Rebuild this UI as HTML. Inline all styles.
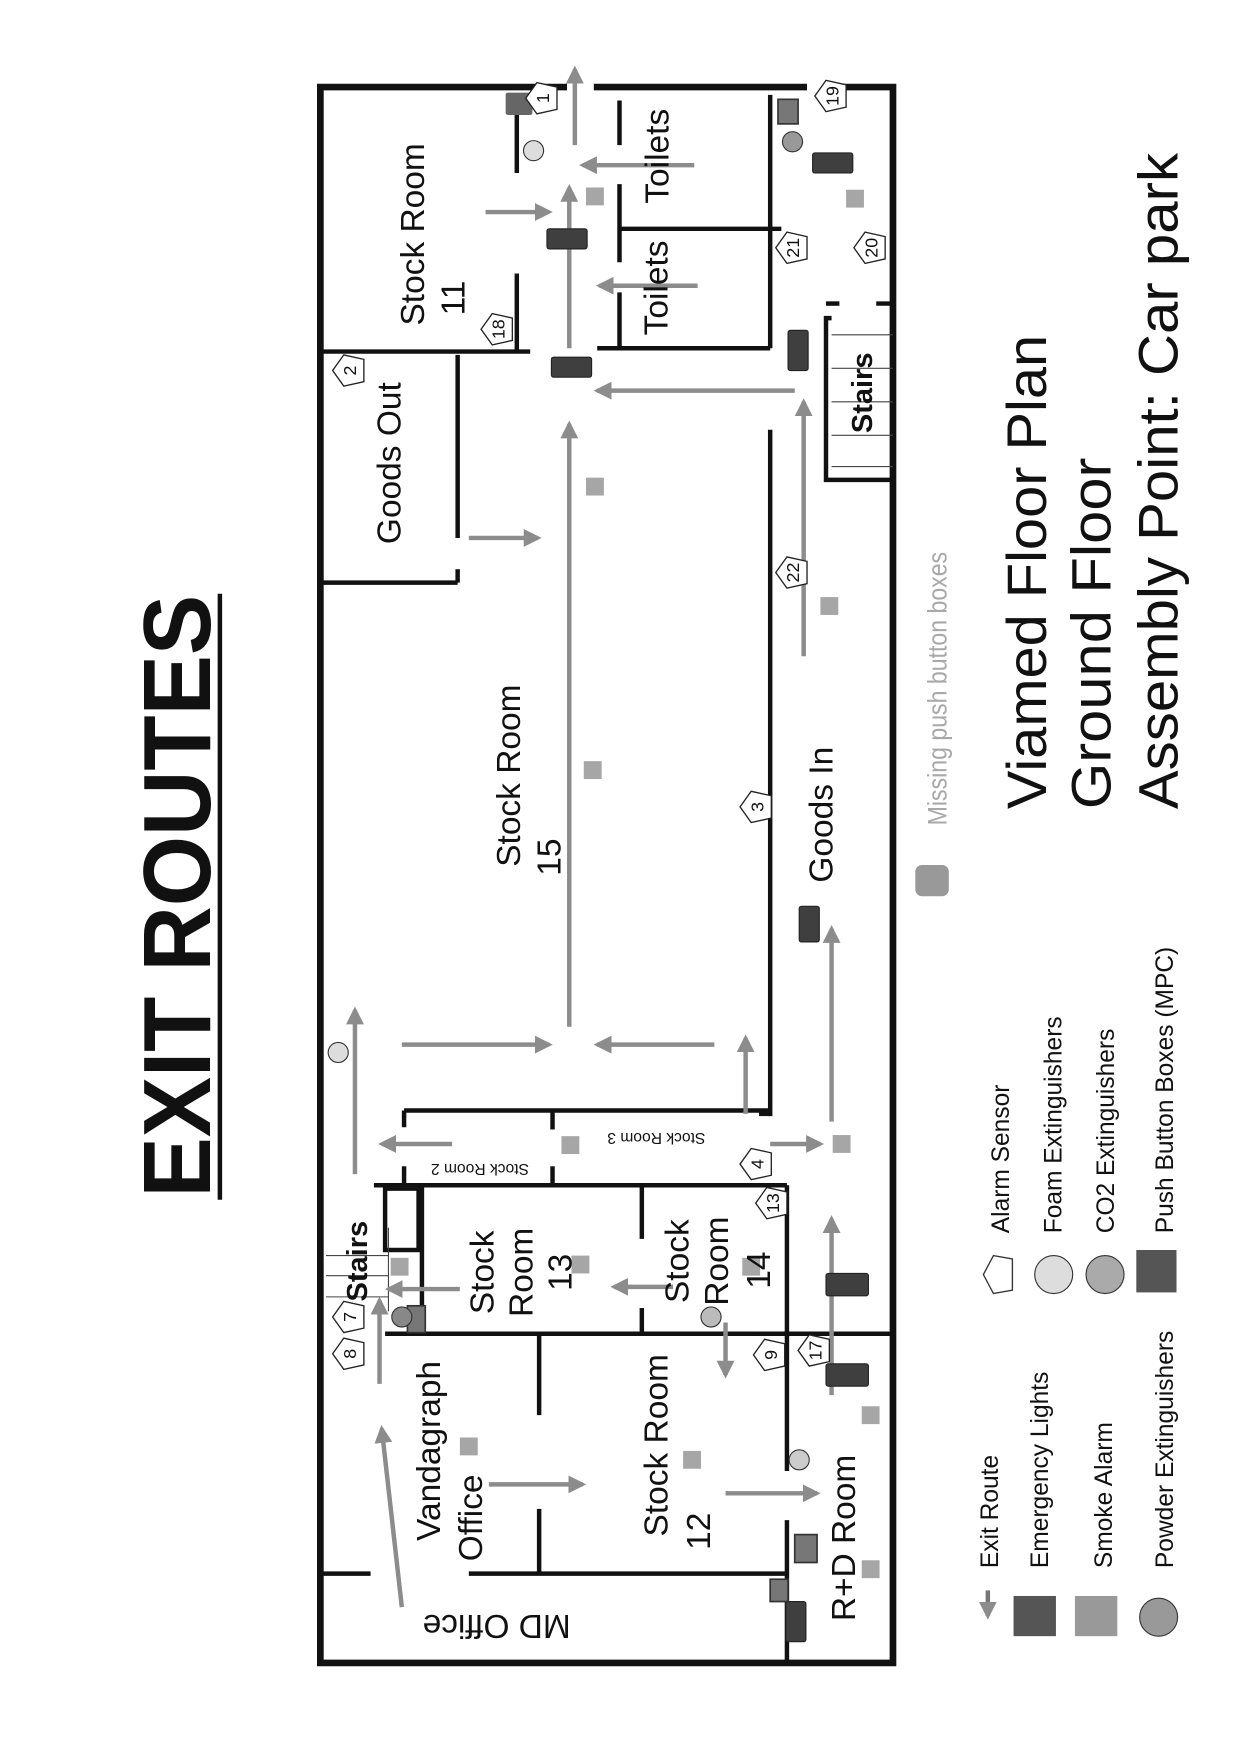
<!DOCTYPE html>
<html><head><meta charset="utf-8"><style>
html,body{margin:0;padding:0;background:#fff;}
svg{display:block;}
text{font-family:"Liberation Sans",Arial,sans-serif;fill:#111;}
</style></head><body>
<svg width="1239" height="1750" viewBox="0 0 1110 1568" preserveAspectRatio="none" xmlns="http://www.w3.org/2000/svg">
<defs>
<marker id="ah" viewBox="0 0 10 10" refX="8" refY="5" markerWidth="4" markerHeight="4" orient="auto"><path d="M0,0 L10,5 L0,10 z" fill="#8c8c8c"/></marker>
<g id="pent"><polygon points="-15,0 -5,-14 13,-10 13,10 -5,14" fill="#fff" stroke="#222" stroke-width="1.2"/></g>
</defs>
<rect width="1110" height="1568" fill="#fff"/>

<!-- Title -->
<text transform="translate(188,803) rotate(-90)" text-anchor="middle" font-size="86" font-weight="bold" textLength="540" lengthAdjust="spacingAndGlyphs">EXIT ROUTES</text>
<line x1="197" y1="532" x2="197" y2="1075" stroke="#111" stroke-width="4"/>

<g stroke="#111" stroke-width="6" fill="none" stroke-linecap="square">
<polyline points="505,78 287,78 287,1490 800,1490 800,78 740,78"/>
<line x1="535" y1="78" x2="720" y2="78"/>
</g>
<g stroke="#111" stroke-width="4" fill="none">
<line x1="287" y1="315" x2="475" y2="315"/>
<line x1="463" y1="90" x2="463" y2="155"/>
<line x1="463" y1="245" x2="463" y2="315"/>
<line x1="410" y1="318" x2="410" y2="482"/>
<line x1="410" y1="510" x2="410" y2="522"/>
<line x1="287" y1="522" x2="410" y2="522"/>
<line x1="555" y1="90" x2="555" y2="130"/>
<line x1="555" y1="165" x2="555" y2="235"/>
<line x1="555" y1="262" x2="555" y2="312"/>
<line x1="555" y1="205" x2="700" y2="205"/>
<line x1="690" y1="85" x2="690" y2="312"/>
<line x1="535" y1="312" x2="690" y2="312"/>
<polyline points="745,285 740,285 740,430 800,430"/>
<line x1="740" y1="272" x2="752" y2="272"/>
<line x1="785" y1="272" x2="800" y2="272"/>
<line x1="690" y1="385" x2="690" y2="1000"/>
<line x1="680" y1="998" x2="690" y2="998"/>
<line x1="362" y1="995" x2="690" y2="995"/>
<line x1="362" y1="995" x2="362" y2="1010"/>
<line x1="495" y1="995" x2="495" y2="1012"/>
<line x1="495" y1="1045" x2="495" y2="1062"/>
<line x1="362" y1="1045" x2="362" y2="1062"/>
<line x1="335" y1="1062" x2="705" y2="1062"/>
<line x1="378" y1="1062" x2="378" y2="1195"/>
<line x1="575" y1="1062" x2="575" y2="1110"/>
<line x1="575" y1="1172" x2="575" y2="1195"/>
<line x1="345" y1="1195" x2="685" y2="1195"/>
<line x1="705" y1="1062" x2="705" y2="1318"/>
<line x1="705" y1="1362" x2="705" y2="1490"/>
<line x1="678" y1="1195" x2="800" y2="1195"/>
<line x1="483" y1="1195" x2="483" y2="1268"/>
<line x1="483" y1="1352" x2="483" y2="1410"/>
<line x1="287" y1="1410" x2="332" y2="1410"/>
<line x1="420" y1="1410" x2="705" y2="1410"/>
</g>
<rect x="345" y="1065" width="30" height="55" fill="none" stroke="#111" stroke-width="4"/>
<g stroke="#444" stroke-width="1">
<line x1="292" y1="1125" x2="348" y2="1125"/><line x1="292" y1="1143" x2="348" y2="1143"/><line x1="292" y1="1162" x2="348" y2="1162"/>
<line x1="348" y1="1100" x2="348" y2="1175"/>
<line x1="745" y1="300" x2="800" y2="300"/><line x1="745" y1="330" x2="800" y2="330"/><line x1="745" y1="360" x2="800" y2="360"/><line x1="745" y1="390" x2="800" y2="390"/><line x1="745" y1="418" x2="800" y2="418"/>
</g>

<g stroke="#8c8c8c" stroke-width="4" fill="none" marker-end="url(#ah)">
<line x1="515" y1="130" x2="515" y2="62"/>
<line x1="622" y1="148" x2="522" y2="148"/>
<line x1="435" y1="190" x2="492" y2="190"/>
<line x1="510" y1="312" x2="510" y2="168"/>
<line x1="625" y1="256" x2="537" y2="256"/>
<line x1="712" y1="350" x2="535" y2="350"/>
<line x1="510" y1="920" x2="510" y2="380"/>
<line x1="420" y1="482" x2="482" y2="482"/>
<line x1="720" y1="588" x2="720" y2="360"/>
<line x1="360" y1="936" x2="492" y2="936"/>
<line x1="640" y1="936" x2="535" y2="936"/>
<line x1="668" y1="998" x2="668" y2="930"/>
<line x1="690" y1="1025" x2="735" y2="1025"/>
<line x1="745" y1="1005" x2="745" y2="832"/>
<line x1="405" y1="1025" x2="342" y2="1025"/>
<line x1="318" y1="1052" x2="318" y2="905"/>
<line x1="412" y1="1155" x2="348" y2="1155"/>
<line x1="603" y1="1153" x2="550" y2="1153"/>
<line x1="650" y1="1185" x2="650" y2="1232"/>
<line x1="745" y1="1250" x2="745" y2="1092"/>
<line x1="438" y1="1330" x2="522" y2="1330"/>
<line x1="650" y1="1338" x2="732" y2="1338"/>
<line x1="340" y1="1240" x2="340" y2="1165"/>
<line x1="360" y1="1440" x2="342" y2="1280"/>
</g>

<g fill="#3f3f3f" stroke="#222" stroke-width="1">
<rect x="490" y="205" width="36" height="18" rx="2"/>
<rect x="494" y="320" width="36" height="18" rx="2"/>
<rect x="706" y="296" width="18" height="36" rx="2"/>
<rect x="728" y="137" width="36" height="18" rx="2"/>
<rect x="716" y="812" width="18" height="32" rx="2"/>
<rect x="740" y="1141" width="38" height="20" rx="2"/>
<rect x="740" y="1222" width="38" height="20" rx="2"/>
<rect x="704" y="1435" width="18" height="36" rx="2"/>
</g>
<rect x="453" y="83" width="24" height="20" fill="#666" rx="2"/>
<g fill="#777" stroke="#333" stroke-width="1.5">
<rect x="697" y="89" width="18" height="22"/><rect x="365" y="1170" width="16" height="24"/>
<rect x="712" y="1375" width="20" height="25"/><rect x="690" y="1415" width="16" height="20"/>
</g>
<g fill="#a6a6a6">
<rect x="525" y="168" width="16" height="16"/><rect x="758" y="170" width="16" height="16"/>
<rect x="525" y="428" width="16" height="16"/><rect x="735" y="535" width="16" height="16"/>
<rect x="523" y="682" width="16" height="16"/><rect x="746" y="1017" width="16" height="16"/>
<rect x="503" y="1018" width="16" height="16"/><rect x="350" y="1127" width="16" height="16"/>
<rect x="665" y="1127" width="16" height="16"/><rect x="512" y="1125" width="16" height="16"/>
<rect x="412" y="1288" width="16" height="16"/><rect x="612" y="1300" width="16" height="16"/>
<rect x="772" y="1260" width="16" height="16"/><rect x="772" y="1398" width="16" height="16"/>
<rect x="820" y="775" width="30" height="28" rx="6" fill="#999"/>
</g>
<g stroke="#333" stroke-width="1">
<circle cx="478" cy="135" r="9" fill="#ddd"/><circle cx="710" cy="127" r="9" fill="#999"/>
<circle cx="303" cy="943" r="9" fill="#ddd"/><circle cx="637" cy="1180" r="9" fill="#bbb"/>
<circle cx="716" cy="1308" r="9" fill="#ccc"/><circle cx="360" cy="1180" r="9" fill="#888"/>
</g>

<g font-size="16">
<use href="#pent" x="486" y="88"/><text transform="translate(492,88) rotate(-90)" text-anchor="middle">1</text>
<use href="#pent" x="745" y="86"/><text transform="translate(751,86) rotate(-90)" text-anchor="middle">19</text>
<use href="#pent" x="710" y="222"/><text transform="translate(716,222) rotate(-90)" text-anchor="middle">21</text>
<use href="#pent" x="780" y="222"/><text transform="translate(786,222) rotate(-90)" text-anchor="middle">20</text>
<use href="#pent" x="446" y="295"/><text transform="translate(452,295) rotate(-90)" text-anchor="middle">18</text>
<use href="#pent" x="313" y="332"/><text transform="translate(319,332) rotate(-90)" text-anchor="middle">2</text>
<use href="#pent" x="710" y="513"/><text transform="translate(716,513) rotate(-90)" text-anchor="middle">22</text>
<use href="#pent" x="678" y="723"/><text transform="translate(684,723) rotate(-90)" text-anchor="middle">3</text>
<use href="#pent" x="678" y="1043"/><text transform="translate(684,1043) rotate(-90)" text-anchor="middle">4</text>
<use href="#pent" x="692" y="1078"/><text transform="translate(698,1078) rotate(-90)" text-anchor="middle">13</text>
<use href="#pent" x="690" y="1214"/><text transform="translate(696,1214) rotate(-90)" text-anchor="middle">9</text>
<use href="#pent" x="730" y="1210"/><text transform="translate(736,1210) rotate(-90)" text-anchor="middle">17</text>
<use href="#pent" x="313" y="1213"/><text transform="translate(319,1213) rotate(-90)" text-anchor="middle">8</text>
<use href="#pent" x="313" y="1180"/><text transform="translate(319,1180) rotate(-90)" text-anchor="middle">7</text>
</g>

<g font-size="30">
<text transform="translate(380,210) rotate(-90)" text-anchor="middle">Stock Room</text>
<text transform="translate(416,267) rotate(-90)" text-anchor="middle">11</text>
<text transform="translate(599,140) rotate(-90)" text-anchor="middle">Toilets</text>
<text transform="translate(598,258) rotate(-90)" text-anchor="middle">Toilets</text>
<text transform="translate(359,415) rotate(-90)" text-anchor="middle">Goods Out</text>
<text transform="translate(466,695) rotate(-90)" text-anchor="middle">Stock Room</text>
<text transform="translate(502,768) rotate(-90)" text-anchor="middle">15</text>
<text transform="translate(746,730) rotate(-90)" text-anchor="middle">Goods In</text>
<text transform="translate(442,1140) rotate(-90)" text-anchor="middle">Stock</text>
<text transform="translate(477,1140) rotate(-90)" text-anchor="middle">Room</text>
<text transform="translate(512,1140) rotate(-90)" text-anchor="middle">13</text>
<text transform="translate(617,1130) rotate(-90)" text-anchor="middle">Stock</text>
<text transform="translate(652,1130) rotate(-90)" text-anchor="middle">Room</text>
<text transform="translate(690,1138) rotate(-90)" text-anchor="middle">14</text>
<text transform="translate(598,1295) rotate(-90)" text-anchor="middle">Stock Room</text>
<text transform="translate(636,1372) rotate(-90)" text-anchor="middle">12</text>
<text transform="translate(394,1300) rotate(-90)" text-anchor="middle">Vandagraph</text>
<text transform="translate(432,1360) rotate(-90)" text-anchor="middle">Office</text>
<text transform="translate(766,1378) rotate(-90)" text-anchor="middle">R+D Room</text>
<text transform="translate(445,1447) rotate(180)" text-anchor="middle">MD Office</text>
</g>
<text transform="translate(588,1015) rotate(180)" text-anchor="middle" font-size="14">Stock Room 3</text>
<text transform="translate(430,1043) rotate(180)" text-anchor="middle" font-size="14">Stock Room 2</text>
<text transform="translate(329,1130) rotate(-90)" text-anchor="middle" font-size="26" font-weight="bold">Stairs</text>
<text transform="translate(781,352) rotate(-90)" text-anchor="middle" font-size="26" font-weight="bold">Stairs</text>

<text transform="translate(848,617) rotate(-90)" text-anchor="middle" font-size="24" style="fill:#a8a8a8" textLength="245" lengthAdjust="spacingAndGlyphs">Missing push button boxes</text>

<text transform="translate(937,725) rotate(-90)" font-size="50" textLength="425" lengthAdjust="spacingAndGlyphs">Viamed Floor Plan</text>
<text transform="translate(995,725) rotate(-90)" font-size="50" textLength="315" lengthAdjust="spacingAndGlyphs">Ground Floor</text>
<text transform="translate(1055,725) rotate(-90)" font-size="50" textLength="588" lengthAdjust="spacingAndGlyphs">Assembly Point: Car park</text>

<line x1="885" y1="1425" x2="885" y2="1448" stroke="#777" stroke-width="4" marker-end="url(#ah)"/>
<text transform="translate(894,1405) rotate(-90)" font-size="22">Exit Route</text>
<rect x="908" y="1430" width="38" height="36" fill="#555"/>
<text transform="translate(939,1405) rotate(-90)" font-size="22">Emergency Lights</text>
<rect x="963" y="1430" width="38" height="36" fill="#999"/>
<text transform="translate(996,1405) rotate(-90)" font-size="22">Smoke Alarm</text>
<circle cx="1038" cy="1449" r="17" fill="#999" stroke="#333" stroke-width="1"/>
<text transform="translate(1051,1405) rotate(-90)" font-size="22">Powder Extinguishers</text>
<polygon points="881,1142 890,1125 907,1128 907,1156 890,1159" fill="#fff" stroke="#333" stroke-width="1.2"/>
<text transform="translate(904,1105) rotate(-90)" font-size="22">Alarm Sensor</text>
<circle cx="944" cy="1142" r="17" fill="#ddd" stroke="#333" stroke-width="1"/>
<text transform="translate(951,1105) rotate(-90)" font-size="22">Foam Extinguishers</text>
<circle cx="990" cy="1142" r="17" fill="#aaa" stroke="#333" stroke-width="1"/>
<text transform="translate(998,1105) rotate(-90)" font-size="22">CO2 Extinguishers</text>
<rect x="1018" y="1120" width="36" height="38" fill="#555"/>
<text transform="translate(1051,1105) rotate(-90)" font-size="22">Push Button Boxes (MPC)</text>
</svg>
</body></html>
